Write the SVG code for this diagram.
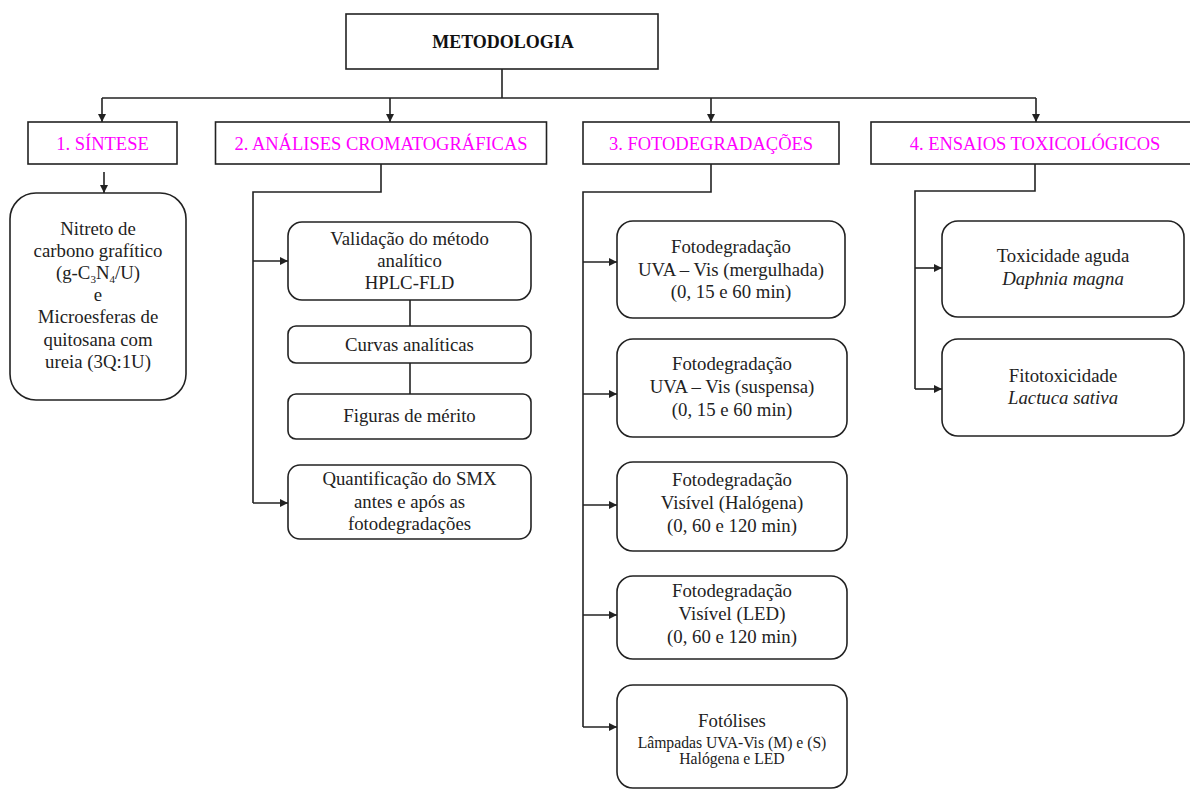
<svg xmlns="http://www.w3.org/2000/svg" width="1190" height="790" viewBox="0 0 1190 790">
<style>
text{font-family:"Liberation Serif","Times New Roman",serif;fill:#222;text-anchor:middle;}
.t{font-size:18.8px;}
.h{font-size:18.5px;fill:#FF00FF;}
.ti{font-size:18px;font-weight:bold;fill:#111;}
.sm{font-size:15.7px;}
.it{font-style:italic;}
.box{fill:#fff;stroke:#222;stroke-width:1.6;}
.con{fill:none;stroke:#222;stroke-width:1.6;}
</style>
<defs>
<marker id="ah" viewBox="0 0 10 10" refX="10" refY="5" markerWidth="9" markerHeight="8" markerUnits="userSpaceOnUse" orient="auto">
<path d="M0,0 L10,5 L0,10 z" fill="#222"/>
</marker>
</defs>
<rect width="1190" height="790" fill="#fff"/>

<g id="connectors">
<line class="con" x1="502" y1="69" x2="502" y2="98"/>
<line class="con" x1="102" y1="98" x2="1036" y2="98"/>
<line class="con" x1="102" y1="98" x2="102" y2="122" marker-end="url(#ah)"/>
<line class="con" x1="390" y1="98" x2="390" y2="122" marker-end="url(#ah)"/>
<line class="con" x1="711" y1="98" x2="711" y2="122" marker-end="url(#ah)"/>
<line class="con" x1="1036" y1="98" x2="1036" y2="122" marker-end="url(#ah)"/>
<line class="con" x1="104" y1="172" x2="104" y2="193" marker-end="url(#ah)"/>
<polyline class="con" points="381,164 381,192 253,192 253,503"/>
<line class="con" x1="253" y1="261" x2="288" y2="261" marker-end="url(#ah)"/>
<line class="con" x1="253" y1="503" x2="288" y2="503" marker-end="url(#ah)"/>
<line class="con" x1="410" y1="300" x2="410" y2="326"/>
<line class="con" x1="410" y1="363" x2="410" y2="394"/>
<polyline class="con" points="711,164 711,192 583,192 583,727"/>
<line class="con" x1="583" y1="262" x2="617" y2="262" marker-end="url(#ah)"/>
<line class="con" x1="583" y1="394" x2="617" y2="394" marker-end="url(#ah)"/>
<line class="con" x1="583" y1="505" x2="617" y2="505" marker-end="url(#ah)"/>
<line class="con" x1="583" y1="615" x2="617" y2="615" marker-end="url(#ah)"/>
<line class="con" x1="583" y1="727" x2="617" y2="727" marker-end="url(#ah)"/>
<polyline class="con" points="1035,164 1035,191 915,191 915,389"/>
<line class="con" x1="915" y1="268" x2="942" y2="268" marker-end="url(#ah)"/>
<line class="con" x1="915" y1="389" x2="942" y2="389" marker-end="url(#ah)"/>
</g>

<g id="metodologia">
<rect class="box" x="346" y="14" width="312" height="55"/>
<text class="ti" x="503" y="48">METODOLOGIA</text>
</g>

<g id="h1">
<rect class="box" x="28" y="122" width="149" height="42"/>
<text class="h" x="102.5" y="149.5">1. SÍNTESE</text>
</g>
<g id="h2">
<rect class="box" x="215.5" y="122" width="331" height="42"/>
<text class="h" x="381" y="149.5">2. ANÁLISES CROMATOGRÁFICAS</text>
</g>
<g id="h3">
<rect class="box" x="583" y="122" width="256" height="42"/>
<text class="h" x="711" y="149.5">3. FOTODEGRADAÇÕES</text>
</g>
<g id="h4">
<rect class="box" x="871" y="122" width="330" height="42"/>
<text class="h" x="1035" y="149.5">4. ENSAIOS TOXICOLÓGICOS</text>
</g>

<g id="sintese">
<rect class="box" x="10" y="193" width="176" height="207" rx="26"/>
<text class="t" x="98" y="235">Nitreto de</text>
<text class="t" x="98" y="257">carbono grafítico</text>
<text class="t" x="98" y="279">(g-C<tspan font-size="11" dy="4">3</tspan><tspan dy="-4">N</tspan><tspan font-size="11" dy="4">4</tspan><tspan dy="-4">/U)</tspan></text>
<text class="t" x="98" y="301">e</text>
<text class="t" x="98" y="323">Microesferas de</text>
<text class="t" x="98" y="345.5">quitosana com</text>
<text class="t" x="98" y="368">ureia (3Q:1U)</text>
</g>

<g id="validacao">
<rect class="box" x="288" y="222" width="243" height="78" rx="14"/>
<text class="t" x="409.5" y="245">Validação do método</text>
<text class="t" x="409.5" y="267">analítico</text>
<text class="t" x="409.5" y="289">HPLC-FLD</text>
</g>
<g id="curvas">
<rect class="box" x="288" y="326" width="243" height="37" rx="8"/>
<text class="t" x="409.5" y="350.5">Curvas analíticas</text>
</g>
<g id="figuras">
<rect class="box" x="288" y="394" width="243" height="45" rx="8"/>
<text class="t" x="409.5" y="422">Figuras de mérito</text>
</g>
<g id="quantificacao">
<rect class="box" x="288" y="465" width="243" height="74" rx="12"/>
<text class="t" x="409.5" y="485">Quantificação do SMX</text>
<text class="t" x="409.5" y="508">antes e após as</text>
<text class="t" x="409.5" y="530">fotodegradações</text>
</g>

<g id="foto1">
<rect class="box" x="617" y="221" width="228" height="97" rx="16"/>
<text class="t" x="731" y="252.5">Fotodegradação</text>
<text class="t" x="731" y="275.5">UVA – Vis (mergulhada)</text>
<text class="t" x="731" y="297.5">(0, 15 e 60 min)</text>
</g>
<g id="foto2">
<rect class="box" x="617" y="339" width="230" height="98" rx="16"/>
<text class="t" x="732" y="370">Fotodegradação</text>
<text class="t" x="732" y="393">UVA – Vis (suspensa)</text>
<text class="t" x="732" y="416">(0, 15 e 60 min)</text>
</g>
<g id="foto3">
<rect class="box" x="617" y="462" width="230" height="89" rx="16"/>
<text class="t" x="732" y="486">Fotodegradação</text>
<text class="t" x="732" y="509">Visível (Halógena)</text>
<text class="t" x="732" y="532">(0, 60 e 120 min)</text>
</g>
<g id="foto4">
<rect class="box" x="617" y="576" width="230" height="83" rx="16"/>
<text class="t" x="732" y="597">Fotodegradação</text>
<text class="t" x="732" y="620">Visível (LED)</text>
<text class="t" x="732" y="643">(0, 60 e 120 min)</text>
</g>
<g id="fotolises">
<rect class="box" x="617" y="685" width="230" height="103" rx="16"/>
<text class="t" x="732" y="727">Fotólises</text>
<text class="sm" x="732" y="748">Lâmpadas UVA-Vis (M) e (S)</text>
<text class="sm" x="732" y="764">Halógena e LED</text>
</g>

<g id="tox1">
<rect class="box" x="942" y="221" width="242" height="96" rx="16"/>
<text class="t" x="1063" y="262">Toxicidade aguda</text>
<text class="t it" x="1063" y="285">Daphnia magna</text>
</g>
<g id="tox2">
<rect class="box" x="942" y="339" width="242" height="97" rx="16"/>
<text class="t" x="1063" y="382">Fitotoxicidade</text>
<text class="t it" x="1063" y="404">Lactuca sativa</text>
</g>
</svg>
